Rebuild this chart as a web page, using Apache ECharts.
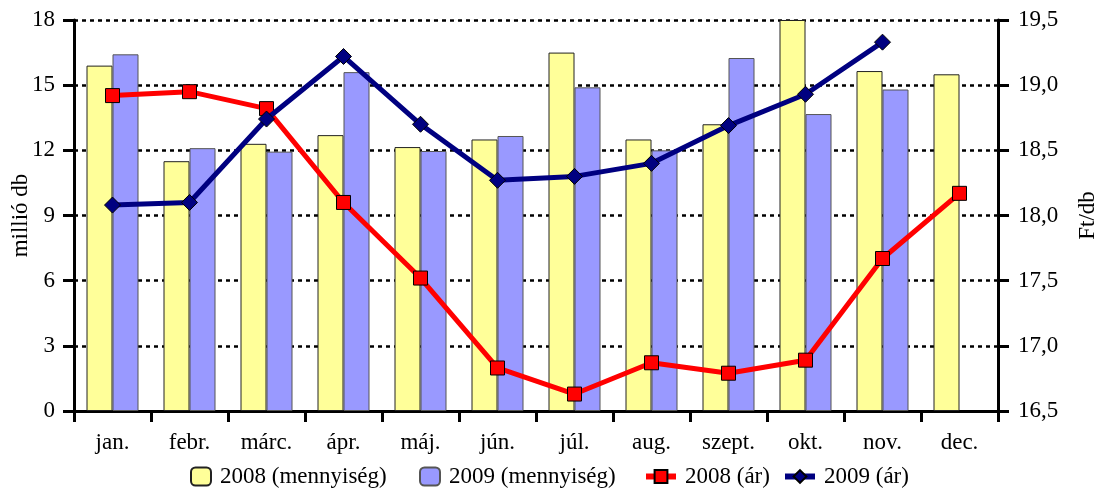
<!DOCTYPE html>
<html><head><meta charset="utf-8">
<script src="https://cdn.jsdelivr.net/npm/echarts@6/dist/echarts.min.js"></script>
<style>html,body{margin:0;padding:0;background:#fff}#c{width:1104px;height:491px}</style>
</head><body><div id="c"></div>
<script>
const months = ['jan.','febr.','márc.','ápr.','máj.','jún.','júl.','aug.','szept.','okt.','nov.','dec.'];
const qty2008 = [15.9, 11.5, 12.3, 12.7, 12.15, 12.5, 16.5, 12.5, 13.2, 18.0, 15.65, 15.5];
const qty2009 = [16.42, 12.1, 11.94, 15.6, 11.97, 12.66, 14.9, 12.0, 16.25, 13.67, 14.8, null];
const price2008 = [18.92, 18.95, 18.82, 18.10, 17.52, 16.83, 16.63, 16.87, 16.79, 16.89, 17.67, 18.17];
const price2009 = [18.08, 18.10, 18.74, 19.22, 18.70, 18.27, 18.30, 18.40, 18.69, 18.93, 19.33, null];
const seriesNames = ['2008 (mennyiség)', '2009 (mennyiség)', '2008 (ár)', '2009 (ár)'];
const leftAxisName = 'millió db';
const rightAxisName = 'Ft/db';

const FONT = 'Liberation Serif';
const txt = {fontFamily: FONT, fontSize: 23, color: '#000'};
const chart = echarts.init(document.getElementById('c'), null, {renderer: 'canvas'});
function leg(name, left, w, h, extra) {
  return Object.assign({data: [name], left: left, top: 465, itemWidth: w, itemHeight: h, itemGap: 0,
    textStyle: Object.assign({}, txt, {padding: [0, 0, 0, 4]}), selectedMode: false, padding: 0}, extra || {});
}
chart.setOption({
  animation: false,
  grid: {left: 74, right: 106, top: 20, bottom: 80, outerBoundsMode: 'none', containLabel: false},
  legend: [
    leg(seriesNames[0], 190, 20, 18),
    leg(seriesNames[1], 419, 20, 18),
    leg(seriesNames[2], 643, 30, 16, {lineStyle: {width: 6}}),
    leg(seriesNames[3], 782, 30, 16, {lineStyle: {width: 6}})
  ],
  xAxis: {
    type: 'category', data: months, boundaryGap: true,
    axisLine: {lineStyle: {color: '#000', width: 3}},
    axisTick: {show: true, length: 11, inside: false, lineStyle: {color: '#000', width: 3}},
    axisLabel: Object.assign({}, txt, {margin: 20, interval: 0})
  },
  yAxis: [
    {
      type: 'value', min: 0, max: 18, interval: 3, position: 'left',
      name: leftAxisName, nameLocation: 'middle', nameGap: 42, nameRotate: 90, nameMoveOverlap: false,
      nameTextStyle: txt,
      axisLine: {show: true, lineStyle: {color: '#000', width: 3}},
      axisTick: {show: true, length: 11, lineStyle: {color: '#000', width: 3}},
      axisLabel: Object.assign({}, txt, {margin: 19}),
      splitLine: {show: true, lineStyle: {color: '#000', width: 2.5, type: [4, 4]}}
    },
    {
      type: 'value', min: 16.5, max: 19.5, interval: 0.5, position: 'right',
      name: rightAxisName, nameLocation: 'middle', nameGap: 78, nameRotate: 90, nameMoveOverlap: false,
      nameTextStyle: txt,
      axisLine: {show: true, lineStyle: {color: '#000', width: 3}},
      axisTick: {show: true, length: 11, lineStyle: {color: '#000', width: 3}},
      axisLabel: Object.assign({}, txt, {margin: 20, formatter: v => v.toFixed(1).replace('.', ',')}),
      splitLine: {show: false}
    }
  ],
  series: [
    {name: seriesNames[0], type: 'bar', data: qty2008, barWidth: 26, barGap: '0%',
      itemStyle: {color: '#FFFF99', borderColor: '#222', borderWidth: 1}},
    {name: seriesNames[1], type: 'bar', data: qty2009, barWidth: 26, barGap: '0%',
      itemStyle: {color: '#9999FF', borderColor: '#555', borderWidth: 1}},
    {name: seriesNames[2], type: 'line', yAxisIndex: 1, data: price2008,
      symbol: 'rect', symbolSize: 14, z: 5,
      lineStyle: {color: '#FF0000', width: 5},
      itemStyle: {color: '#FF0000', borderColor: '#000', borderWidth: 1}},
    {name: seriesNames[3], type: 'line', yAxisIndex: 1, data: price2009,
      symbol: 'diamond', symbolSize: 16, z: 6,
      lineStyle: {color: '#000080', width: 5},
      itemStyle: {color: '#000080', borderColor: '#000', borderWidth: 1}}
  ]
});
</script></body></html>
